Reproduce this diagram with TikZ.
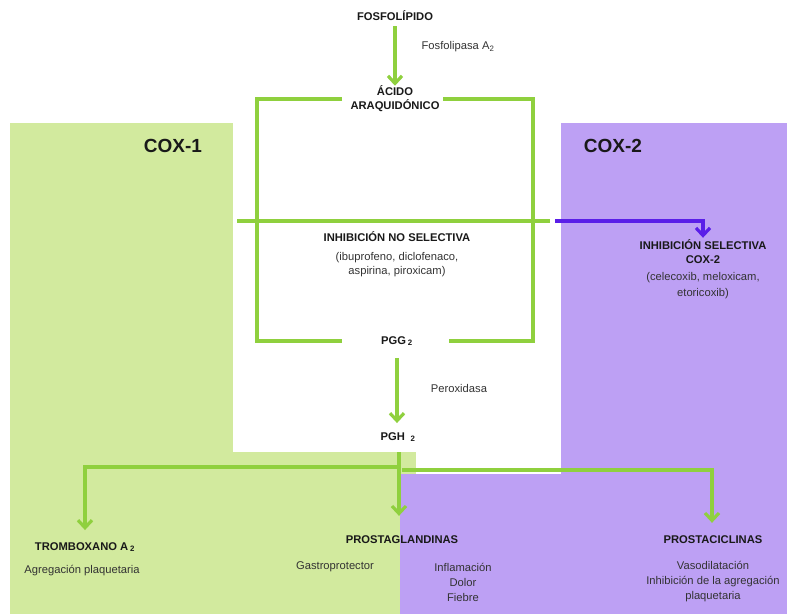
\documentclass[tikz,border=0pt]{standalone}
\usepackage{fontspec}
\setmainfont{Liberation Sans}
\usetikzlibrary{arrows.meta}
\definecolor{coxonebg}{HTML}{D2EA9E}
\definecolor{coxtwobg}{HTML}{BDA0F4}
\definecolor{pathgreen}{HTML}{8FD03E}
\definecolor{pathpurple}{HTML}{5A1EE8}
\begin{document}
\begin{tikzpicture}[x=1pt,y=-1pt,
	title/.style={font=\bfseries\fontsize{11.2}{14}\selectfont, text=black!90, align=center, inner sep=1pt},
	note/.style={font=\fontsize{11.2}{15}\selectfont, text=black!80, align=center, inner sep=1pt},
	coxlabel/.style={font=\bfseries\fontsize{19}{22}\selectfont, text=black!90, inner sep=1pt},
	bar/.style={pathgreen, line width=3.2pt},
	flow/.style={bar, -{Straight Barb[length=7.5pt,width=14pt]}},
	inhib/.style={pathpurple, line width=3.2pt, -{Straight Barb[length=7.5pt,width=14pt]}}]
\useasboundingbox (0,0) rectangle (787,614);
% COX-1 and COX-2 areas
\fill[coxonebg] (10,123) rectangle (233,614);
\fill[coxonebg] (233,452) rectangle (416,614);
\fill[coxtwobg] (561,123) rectangle (787,614);
\fill[coxtwobg] (400,474) rectangle (561,614);
\node[coxlabel] (coxone) at (173,146) {COX-1};
\node[coxlabel] (coxtwo) at (613,146) {COX-2};
% Upper pathway
\node[title] (fosfo) at (395,16) {FOSFOLÍPIDO};
\node[note] (fosfolipasa) at (458,47) {Fosfolipasa A\textsubscript{2}};
\node[title] (acido) at (395,99) {ÁCIDO\\ARAQUIDÓNICO};
\node[title] (pgg) at (397,341) {PGG\,\textsubscript{2}};
\node[note] (peroxidasa) at (459,388) {Peroxidasa};
\node[title] (pgh) at (398,437) {PGH\enspace\textsubscript{2}};
\draw[flow, shorten <=4pt, shorten >=-1pt] (fosfo.south) -- (acido.north);
\draw[flow, shorten <=11pt, shorten >=8pt] (pgg.south) -- (pgg.south |- pgh.north);
% Bracket from the acid to PGG2
\coordinate (brTLin) at (342,99);
\coordinate (brTL) at (257,99);
\coordinate (brBL) at (257,341);
\coordinate (brBLin) at (342,341);
\coordinate (brTRin) at (443,99);
\coordinate (brTR) at (533,99);
\coordinate (brBR) at (533,341);
\coordinate (brBRin) at (449,341);
\draw[bar] (brTLin) -- (brTL) -- (brBL) -- (brBLin);
\draw[bar] (brTRin) -- (brTR) -- (brBR) -- (brBRin);
% Inhibition
\coordinate (inhL) at (237,221);
\coordinate (inhR) at (550,221);
\coordinate (selstart) at (555,221);
\draw[bar] (inhL) -- (inhR);
\node[title] (noselect) at (397,237) {INHIBICIÓN NO SELECTIVA};
\node[note, font=\fontsize{11.2}{14}\selectfont] (nsdrugs) at (397,265) {(ibuprofeno, diclofenaco,\\aspirina, piroxicam)};
\node[title] (select) at (703,252) {INHIBICIÓN SELECTIVA\\COX-2};
\node[note, font=\fontsize{11.2}{16}\selectfont] (sdrugs) at (703,286) {(celecoxib, meloxicam,\\etoricoxib)};
\draw[inhib] (selstart) -| ([yshift=1pt]select.north);
% Products of PGH2
\node[title] (trombox) at (85,547) {TROMBOXANO A\,\textsubscript{2}};
\node[note] (agreg) at (82,571) {Agregación plaquetaria};
\node[title] (prostag) at (402,540) {PROSTAGLANDINAS};
\node[note] (gastro) at (335,567) {Gastroprotector};
\node[note] (inflam) at (463,582) {Inflamación\\Dolor\\Fiebre};
\node[title] (prostac) at (713,540) {PROSTACICLINAS};
\node[note] (vaso) at (713,582) {Vasodilatación\\Inhibición de la agregación\\plaquetaria};
\coordinate (split) at (399,452);
\draw[flow] (split) -- ([yshift=19pt]split |- prostag.north);
\draw[flow] ([yshift=-15pt]split) -| ([yshift=11pt]trombox.north);
\draw[flow] ([xshift=3pt,yshift=-18pt]split) -| ([xshift=-1pt,yshift=12pt]prostac.north);
\end{tikzpicture}
\end{document}
